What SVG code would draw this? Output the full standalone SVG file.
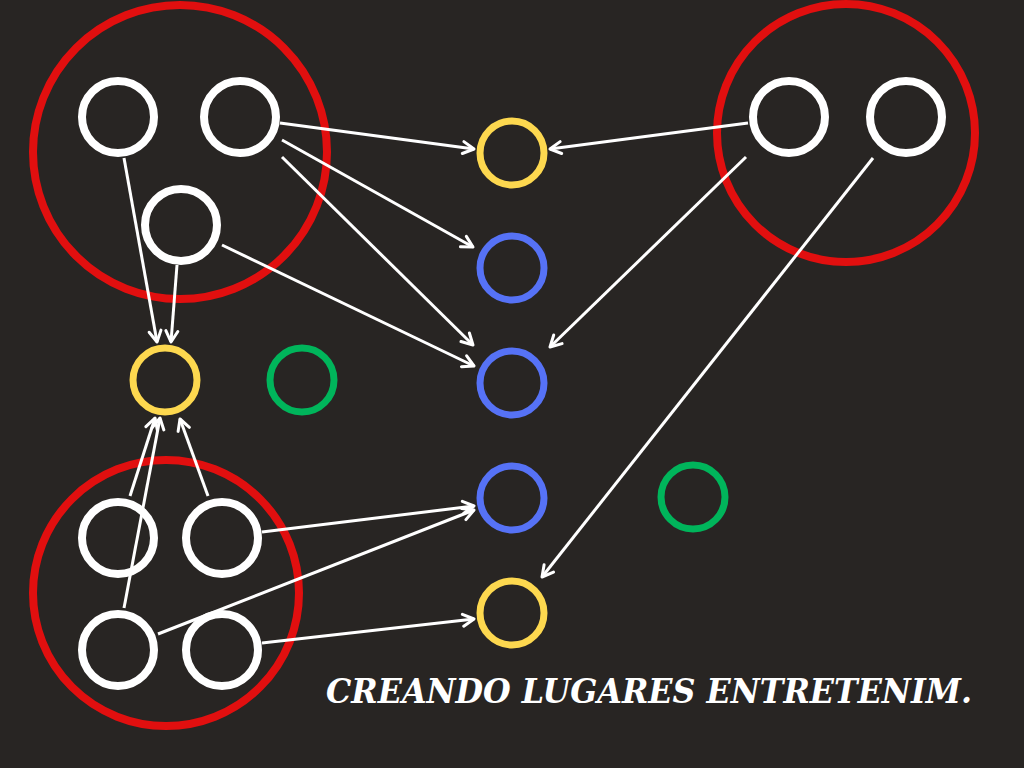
<svg xmlns="http://www.w3.org/2000/svg" width="1024" height="768" viewBox="0 0 1024 768">
<style>
.grp{fill:none;stroke:#E10F0F;stroke-width:8}
.w{fill:none;stroke:#FFFFFF;stroke-width:8}
.y{fill:none;stroke:#FDD84F;stroke-width:7}
.b{fill:none;stroke:#5672F6;stroke-width:7}
.g{fill:none;stroke:#00B55B;stroke-width:7}
.c{stroke:#FFFFFF;stroke-width:3;fill:none;marker-end:url(#ah)}
.t{font-family:"DejaVu Serif","Liberation Serif",serif;font-style:italic;font-weight:bold;font-size:34px;fill:#FFFFFF}
</style>
<defs>
<marker id="ah" markerUnits="userSpaceOnUse" markerWidth="16" markerHeight="16" refX="13" refY="7" orient="auto" viewBox="0 0 16 14">
<path d="M2,1 L13,7 L2,13" fill="none" stroke="#FFFFFF" stroke-width="3" stroke-linecap="round" stroke-linejoin="round"/>
</marker>
</defs>
<rect width="1024" height="768" fill="#282523"/>
<g id="group-top-left"><circle class="grp" cx="180" cy="152" r="147"/></g>
<g id="group-top-right"><circle class="grp" cx="846" cy="133" r="129"/></g>
<g id="group-bottom-left"><circle class="grp" cx="166" cy="593" r="133"/></g>
<g id="n1"><circle class="w" cx="118" cy="117" r="36"/></g>
<g id="n2"><circle class="w" cx="240" cy="117" r="36"/></g>
<g id="n3"><circle class="w" cx="181" cy="225" r="36"/></g>
<g id="n4"><circle class="w" cx="789" cy="117" r="36"/></g>
<g id="n5"><circle class="w" cx="906" cy="117" r="36"/></g>
<g id="n6"><circle class="w" cx="118" cy="538" r="36"/></g>
<g id="n7"><circle class="w" cx="222" cy="538" r="36"/></g>
<g id="n8"><circle class="w" cx="118" cy="650" r="36"/></g>
<g id="n9"><circle class="w" cx="222" cy="650" r="36"/></g>
<g id="y1"><circle class="y" cx="512" cy="153" r="32"/></g>
<g id="b1"><circle class="b" cx="512" cy="268" r="32"/></g>
<g id="b2"><circle class="b" cx="512" cy="383" r="32"/></g>
<g id="b3"><circle class="b" cx="512" cy="498" r="32"/></g>
<g id="y2"><circle class="y" cx="512" cy="613" r="32"/></g>
<g id="y3"><circle class="y" cx="165" cy="380" r="32"/></g>
<g id="g1"><circle class="g" cx="302" cy="380" r="32"/></g>
<g id="g2"><circle class="g" cx="693" cy="497" r="32"/></g>
<g id="connectors">
<line class="c" x1="280" y1="123" x2="474" y2="149"/>
<line class="c" x1="282" y1="140" x2="473" y2="247"/>
<line class="c" x1="282" y1="157" x2="473" y2="345"/>
<line class="c" x1="222" y1="245" x2="474" y2="366"/>
<line class="c" x1="748" y1="123" x2="550" y2="149"/>
<line class="c" x1="746" y1="157" x2="550" y2="347"/>
<line class="c" x1="873" y1="158" x2="542" y2="577"/>
<line class="c" x1="124" y1="158" x2="157" y2="342"/>
<line class="c" x1="177" y1="265" x2="171" y2="342"/>
<line class="c" x1="130" y1="496" x2="155" y2="418"/>
<line class="c" x1="124" y1="608" x2="160" y2="418"/>
<line class="c" x1="208" y1="496" x2="180" y2="419"/>
<line class="c" x1="262" y1="532" x2="474" y2="506"/>
<line class="c" x1="158" y1="634" x2="474" y2="510"/>
<line class="c" x1="262" y1="643" x2="474" y2="619"/>
</g>
<text class="t" x="326" y="703" textLength="646" lengthAdjust="spacingAndGlyphs">CREANDO LUGARES ENTRETENIM.</text>
</svg>
